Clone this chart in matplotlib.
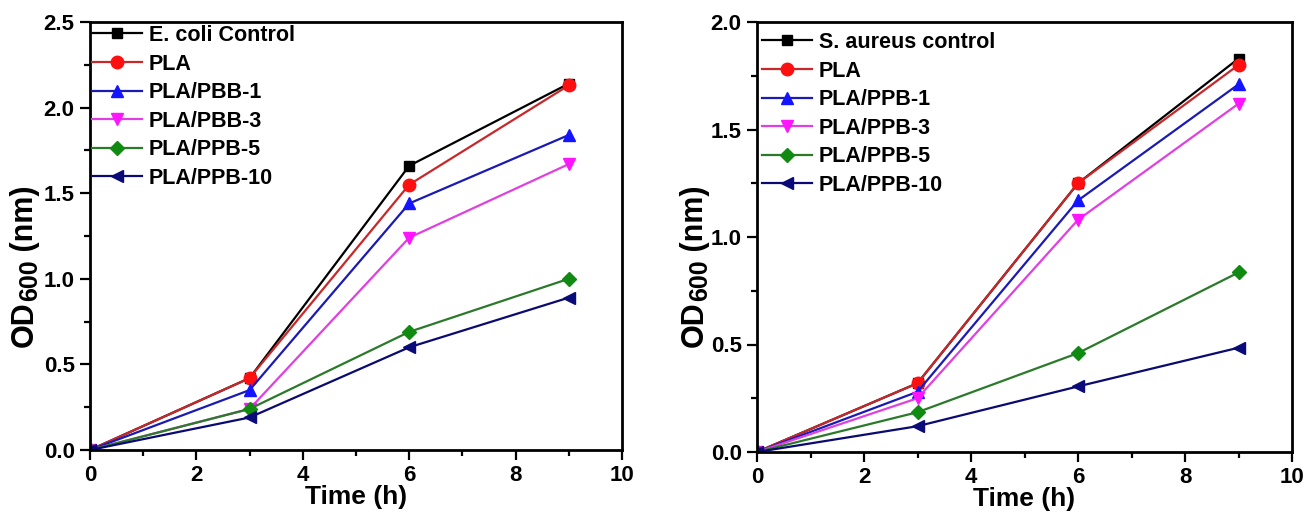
import matplotlib
matplotlib.use('Agg')
import matplotlib.pyplot as plt
from matplotlib.ticker import MultipleLocator
from matplotlib.transforms import IdentityTransform

plt.rcParams['font.family'] = 'Liberation Sans'
plt.rcParams['font.weight'] = 'bold'

time_h = [0, 3, 6, 9]

# E. coli panel
ecoli_labels = ['E. coli Control', 'PLA', 'PLA/PBB-1', 'PLA/PBB-3', 'PLA/PPB-5', 'PLA/PPB-10']
ecoli_control = [0.0, 0.42, 1.66, 2.14]
ecoli_pla = [0.0, 0.42, 1.55, 2.13]
ecoli_pbb1 = [0.0, 0.35, 1.44, 1.84]
ecoli_pbb3 = [0.0, 0.24, 1.24, 1.67]
ecoli_ppb5 = [0.0, 0.24, 0.69, 1.00]
ecoli_ppb10 = [0.0, 0.19, 0.60, 0.89]

# S. aureus panel
saureus_labels = ['S. aureus control', 'PLA', 'PLA/PPB-1', 'PLA/PPB-3', 'PLA/PPB-5', 'PLA/PPB-10']
saureus_control = [0.0, 0.32, 1.25, 1.83]
saureus_pla = [0.0, 0.32, 1.25, 1.80]
saureus_ppb1 = [0.0, 0.28, 1.17, 1.71]
saureus_ppb3 = [0.0, 0.25, 1.08, 1.62]
saureus_ppb5 = [0.0, 0.185, 0.46, 0.835]
saureus_ppb10 = [0.0, 0.12, 0.305, 0.485]

colors = ['black', '#ff1010', '#1414ff', '#ff14ff', '#108a10', '#0a0a78']
line_colors = ['black', '#c8282a', '#1a1ab4', '#e040e0', '#2a7a2a', '#0a0a70']
markers = ['s', 'o', '^', 'v', 'D', '<']
msizes = [7, 9, 9, 9, 7, 9]

W, H = 1307, 515
fig = plt.figure(figsize=(W / 100, H / 100), dpi=100)
ax1 = fig.add_axes([90 / W, (H - 450) / H, 532 / W, 428 / H])
ax2 = fig.add_axes([757 / W, (H - 452) / H, 535 / W, 430 / H])

panels = [
    (ax1, ecoli_labels, [ecoli_control, ecoli_pla, ecoli_pbb1, ecoli_pbb3, ecoli_ppb5, ecoli_ppb10],
     2.5, (2, 3), 33),
    (ax2, saureus_labels, [saureus_control, saureus_pla, saureus_ppb1, saureus_ppb3, saureus_ppb5, saureus_ppb10],
     2.0, (5, 10), 703),
]

renderer = fig.canvas.get_renderer()

for ax, labels, series, ymax, leg_off, ylab_x in panels:
    for lab, ys, c, lc, m, ms in zip(labels, series, colors, line_colors, markers, msizes):
        ax.plot(time_h, ys, color=lc, lw=1.6, marker=m, ms=ms, mfc=c, mec=c, label=lab)
    ax.set_xlim(0, 10)
    ax.set_ylim(0, ymax)
    ax.xaxis.set_major_locator(MultipleLocator(2))
    ax.xaxis.set_minor_locator(MultipleLocator(1))
    ax.yaxis.set_major_locator(MultipleLocator(0.5))
    ax.yaxis.set_minor_locator(MultipleLocator(0.25))
    ax.tick_params(which='both', direction='out', width=1.6, top=False, right=False,
                   labelsize=16, pad=4)
    ax.tick_params(which='major', length=7)
    ax.tick_params(which='minor', length=4)
    for s in ax.spines.values():
        s.set_linewidth(2)
    ax.set_xlabel('Time (h)', fontsize=19, fontweight='bold', labelpad=-1)

    # legend anchored a few pixels from the top-left corner
    bb = ax.get_window_extent()
    ax.legend(loc='upper left', frameon=False, handlelength=2.3,
              bbox_to_anchor=(bb.x0 + leg_off[0], bb.y1 - leg_off[1]),
              bbox_transform=IdentityTransform(),
              borderaxespad=0, borderpad=0, labelspacing=0.35, handletextpad=0.35,
              prop={'weight': 'bold', 'size': 15.5})

    # y label "OD600 (nm)" with a large subscript, built piece by piece
    y0 = H - 347
    kw = dict(rotation=90, rotation_mode='anchor', ha='left', va='baseline',
              transform=IdentityTransform(), fontweight='bold')
    t1 = fig.text(ylab_x, y0, 'OD', fontsize=22, **kw)
    y1 = y0 + t1.get_window_extent(renderer).height
    t2 = fig.text(ylab_x + 4, y1, '600', fontsize=18, **kw)
    y2 = y1 + t2.get_window_extent(renderer).height
    fig.text(ylab_x, y2, ' (nm)', fontsize=22, **kw)

fig.savefig('out.png', facecolor='white')
